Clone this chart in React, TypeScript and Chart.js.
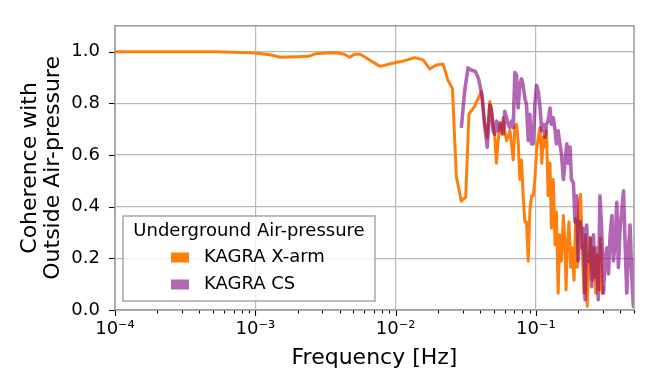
import React, { useEffect, useRef } from "react";
import { Chart, registerables } from "chart.js";

Chart.register(...registerables);

// ---------- data ----------
const freqXarm = [
  1e-4, 2e-4, 3e-4, 5e-4, 7e-4, 1e-3, 0.0013, 0.0015, 0.002, 0.0024, 0.0027, 0.0032, 0.0038, 0.0043, 0.0047,
  0.0051, 0.0056, 0.00774, 0.01, 0.0116, 0.0137, 0.0157, 0.0175, 0.0195, 0.0218, 0.0236, 0.0254, 0.0271,
  0.0294, 0.0316, 0.0333, 0.0365, 0.0408, 0.043, 0.045,
  0.0469, 0.0482, 0.0495, 0.0509, 0.0523, 0.0538, 0.0553, 0.0568, 0.0584, 0.06, 0.0617, 0.0634, 0.0652,
  0.067, 0.0689, 0.0708, 0.0727, 0.0747, 0.0768, 0.0789, 0.0811, 0.0834, 0.0857, 0.0881, 0.0905, 0.093,
  0.0957, 0.0983, 0.101, 0.104, 0.107, 0.11, 0.113, 0.116, 0.119, 0.122, 0.126, 0.129, 0.133, 0.137, 0.14,
  0.144, 0.148, 0.152, 0.157, 0.161, 0.164, 0.167, 0.172, 0.177, 0.181, 0.187, 0.192, 0.197, 0.203, 0.208,
  0.214, 0.22, 0.226, 0.232, 0.239, 0.245, 0.252, 0.259, 0.267, 0.274, 0.282, 0.289, 0.297, 0.303,
];
const cohXarm = [
  1.0, 1.0, 1.0, 1.0, 0.998, 0.995, 0.987, 0.978, 0.98, 0.982, 0.992, 0.995, 0.996, 0.99, 0.978,
  0.99, 0.99, 0.943, 0.958, 0.965, 0.977, 0.968, 0.933, 0.948, 0.952, 0.889, 0.857, 0.516,
  0.421, 0.437, 0.758, 0.788, 0.845, 0.73, 0.667,
  0.807, 0.782, 0.719, 0.669, 0.568, 0.656, 0.719, 0.681, 0.744, 0.694, 0.656, 0.669, 0.694,
  0.643, 0.581, 0.706, 0.719, 0.656, 0.505, 0.581, 0.442, 0.341, 0.341, 0.19, 0.379, 0.442,
  0.442, 0.505, 0.618, 0.669, 0.706, 0.568, 0.669, 0.631, 0.694, 0.442, 0.568, 0.316, 0.505, 0.253, 0.379,
  0.065, 0.291, 0.19, 0.366, 0.253, 0.078, 0.241, 0.341, 0.165, 0.241, 0.115, 0.354, 0.165, 0.417, 0.448,
  0.241, 0.065, 0.291, 0.014, 0.19, 0.279, 0.115, 0.241, 0.065, 0.215, 0.078, 0.279, 0.065, 0.09,
];

const freqCS = [
  0.0294, 0.031, 0.0328, 0.0345, 0.037, 0.039, 0.0414, 0.043, 0.045,
  0.0469, 0.0482, 0.0495, 0.0509, 0.0523, 0.0538, 0.0553, 0.0568, 0.0584, 0.06, 0.0617, 0.0634, 0.0652,
  0.067, 0.0689, 0.0708, 0.0727, 0.0747, 0.0768, 0.0789, 0.0811, 0.0834, 0.0857, 0.0881, 0.0905, 0.093,
  0.0957, 0.0983, 0.101, 0.104, 0.107, 0.11, 0.113, 0.116, 0.119, 0.122, 0.126, 0.129, 0.133, 0.137, 0.14,
  0.144, 0.148, 0.152, 0.157, 0.161,
  0.166, 0.17, 0.175, 0.179, 0.185, 0.19, 0.195, 0.2, 0.206, 0.212, 0.218, 0.224, 0.23, 0.236, 0.243,
  0.25, 0.257, 0.264, 0.271, 0.278, 0.286, 0.294, 0.303, 0.311, 0.32, 0.329, 0.338, 0.348, 0.357, 0.367,
  0.377, 0.387, 0.398, 0.41, 0.421, 0.433, 0.444, 0.457, 0.469, 0.482, 0.495, 0.5,
];
const cohCS = [
  0.705, 0.845, 0.937, 0.929, 0.923, 0.895, 0.826, 0.718, 0.63,
  0.794, 0.769, 0.694, 0.681, 0.731, 0.694, 0.725, 0.706, 0.681, 0.769, 0.744, 0.719, 0.706,
  0.731, 0.706, 0.92, 0.908, 0.782, 0.87, 0.895, 0.87, 0.819, 0.794, 0.656, 0.757, 0.643,
  0.643, 0.794, 0.87, 0.845, 0.782, 0.694, 0.719, 0.669, 0.719, 0.731, 0.782, 0.719, 0.744, 0.694, 0.643,
  0.694, 0.643, 0.605, 0.505, 0.568,
  0.643, 0.568, 0.631, 0.505, 0.492, 0.341, 0.442, 0.19, 0.341, 0.241, 0.316, 0.04, 0.329, 0.19, 0.279,
  0.09, 0.291, 0.128, 0.241, 0.04, 0.442, 0.316, 0.065, 0.19, 0.241, 0.14, 0.291, 0.366, 0.19, 0.266,
  0.417, 0.165, 0.316, 0.392, 0.461, 0.241, 0.065, 0.241, 0.329, 0.128, 0.014, 0.2,
];

const seriesNames = ["KAGRA X-arm", "KAGRA CS"];
const legendTitle = "Underground Air-pressure";
const xTitle = "Frequency [Hz]";
const yTitle = ["Coherence with", "Outside Air-pressure"];
const yTickValues = [0, 0.2, 0.4, 0.6, 0.8, 1.0];
const xDecades = [1e-4, 1e-3, 1e-2, 1e-1];
const xDecadeLabels = ["10⁻⁴", "10⁻³", "10⁻²", "10⁻¹"];
const xMin = 1e-4;
const xMax = 0.5;
const yMin = 0;
const yMax = 1.1;

// ---------- styles ----------
const ORANGE = "#ff7f0e";
const PURPLE = "rgba(128,0,128,0.6)";
const PURPLE_SOLID = "#b366b3";
const FONT = "DejaVu Sans";

const xTickValues: number[] = [];
xDecades.forEach((d) => {
  for (let m = 1; m <= 9; m++) {
    const v = m * d;
    if (v <= xMax * 1.0000001) xTickValues.push(v);
  }
});

const isDecade = (v: number) => xDecades.some((d) => Math.abs(v - d) / d < 1e-6);

const decorPlugin = {
  id: "decor",
  afterDatasetsDraw(chart: any) {
    const { ctx, chartArea: a, scales } = chart;
    const xs = scales.x;
    const ys = scales.y;
    ctx.save();
    // ticks
    ctx.strokeStyle = "#000";
    ctx.lineWidth = 1.1;
    xTickValues.forEach((v) => {
      const px = Math.round(xs.getPixelForValue(v)) + 0.5;
      const len = isDecade(v) ? 6 : 3.5;
      ctx.beginPath();
      ctx.moveTo(px, a.bottom);
      ctx.lineTo(px, a.bottom + len);
      ctx.stroke();
    });
    yTickValues.forEach((v) => {
      const py = Math.round(ys.getPixelForValue(v)) + 0.5;
      ctx.beginPath();
      ctx.moveTo(a.left - 6, py);
      ctx.lineTo(a.left, py);
      ctx.stroke();
    });
    // spines
    ctx.strokeStyle = "#9a9a9a";
    ctx.lineWidth = 1.5;
    ctx.strokeRect(a.left, a.top, a.right - a.left, a.bottom - a.top);
    ctx.restore();
  },
  afterDraw(chart: any) {
    const { ctx, chartArea: a } = chart;
    const bx = a.left + 8;
    const by = a.bottom - 94;
    const bw = 252;
    const bh = 85;
    ctx.save();
    ctx.fillStyle = "rgba(255,255,255,0.8)";
    ctx.fillRect(bx, by, bw, bh);
    ctx.strokeStyle = "#a6a6a6";
    ctx.lineWidth = 1.5;
    ctx.strokeRect(bx, by, bw, bh);
    ctx.font = `18px "${FONT}"`;
    ctx.fillStyle = "#000";
    ctx.textBaseline = "middle";
    ctx.textAlign = "center";
    ctx.fillText(legendTitle, bx + bw / 2, by + 15);
    const colors = [ORANGE, PURPLE_SOLID];
    ctx.textAlign = "left";
    seriesNames.forEach((name, i) => {
      const cy = by + 41.5 + i * 27;
      ctx.fillStyle = colors[i];
      ctx.fillRect(bx + 48, cy - 5, 18, 10);
      ctx.fillStyle = "#000";
      ctx.fillText(name, bx + 81, cy);
    });
    ctx.restore();
  },
};

export default function App() {
  const canvasRef = useRef<HTMLCanvasElement | null>(null);

  useEffect(() => {
    if (!canvasRef.current) return;
    const chart = new Chart(canvasRef.current, {
      type: "line",
      data: {
        datasets: [
          {
            label: seriesNames[0],
            data: freqXarm.map((f, i) => ({ x: f, y: cohXarm[i] })),
            borderColor: ORANGE,
            backgroundColor: ORANGE,
            borderWidth: 3,
            pointRadius: 0,
            tension: 0,
            borderJoinStyle: "round",
            order: 1,
          },
          {
            label: seriesNames[1],
            data: freqCS.map((f, i) => ({ x: f, y: cohCS[i] })),
            borderColor: PURPLE,
            backgroundColor: PURPLE,
            borderWidth: 3.6,
            pointRadius: 0,
            tension: 0,
            borderJoinStyle: "round",
            order: 0,
          },
        ],
      },
      options: {
        responsive: false,
        animation: false,
        devicePixelRatio: 1,
        layout: { padding: { top: 19, right: 20, left: 0, bottom: 0 } },
        plugins: {
          legend: { display: false },
          tooltip: { enabled: false },
        },
        scales: {
          x: {
            type: "logarithmic",
            min: xMin,
            max: xMax,
            afterBuildTicks: (scale: any) => {
              scale.ticks = xTickValues.map((v) => ({ value: v }));
            },
            afterFit: (scale: any) => {
              scale.height = 82;
            },
            border: { display: false },
            grid: {
              drawTicks: false,
              color: (ctx: any) =>
                ctx.tick && isDecade(ctx.tick.value) ? "#b8b8b8" : "rgba(0,0,0,0)",
              lineWidth: 1.2,
            },
            ticks: {
              autoSkip: false,
              maxRotation: 0,
              minRotation: 0,
              padding: 9,
              color: "#000",
              font: { family: FONT, size: 18 },
              callback: (value: any) => {
                const i = xDecades.findIndex((d) => Math.abs(Number(value) - d) / d < 1e-6);
                return i >= 0 ? xDecadeLabels[i] : "";
              },
            },
            title: {
              display: true,
              text: xTitle,
              color: "#000",
              font: { family: FONT, size: 22, lineHeight: 1.05 },
              padding: { top: 0, bottom: 22.5 },
            },
          },
          y: {
            type: "linear",
            min: yMin,
            max: yMax,
            afterBuildTicks: (scale: any) => {
              scale.ticks = yTickValues.map((v) => ({ value: v }));
            },
            afterFit: (scale: any) => {
              scale.width = 115;
            },
            border: { display: false },
            grid: {
              drawTicks: false,
              color: "#b8b8b8",
              lineWidth: 1.2,
            },
            ticks: {
              padding: 15,
              color: "#000",
              font: { family: FONT, size: 18 },
              callback: (value: any) => Number(value).toFixed(1),
            },
            title: {
              display: true,
              text: yTitle,
              color: "#000",
              font: { family: FONT, size: 22, lineHeight: 1.05 },
              padding: { top: 18.5, bottom: 0 },
            },
          },
        },
      },
      plugins: [decorPlugin],
    } as any);
    return () => chart.destroy();
  }, []);

  return (
    <div style={{ position: "absolute", left: 0, top: 0, width: 654, height: 392, background: "#fff" }}>
      <canvas ref={canvasRef} width={654} height={392} style={{ display: "block" }} />
    </div>
  );
}
